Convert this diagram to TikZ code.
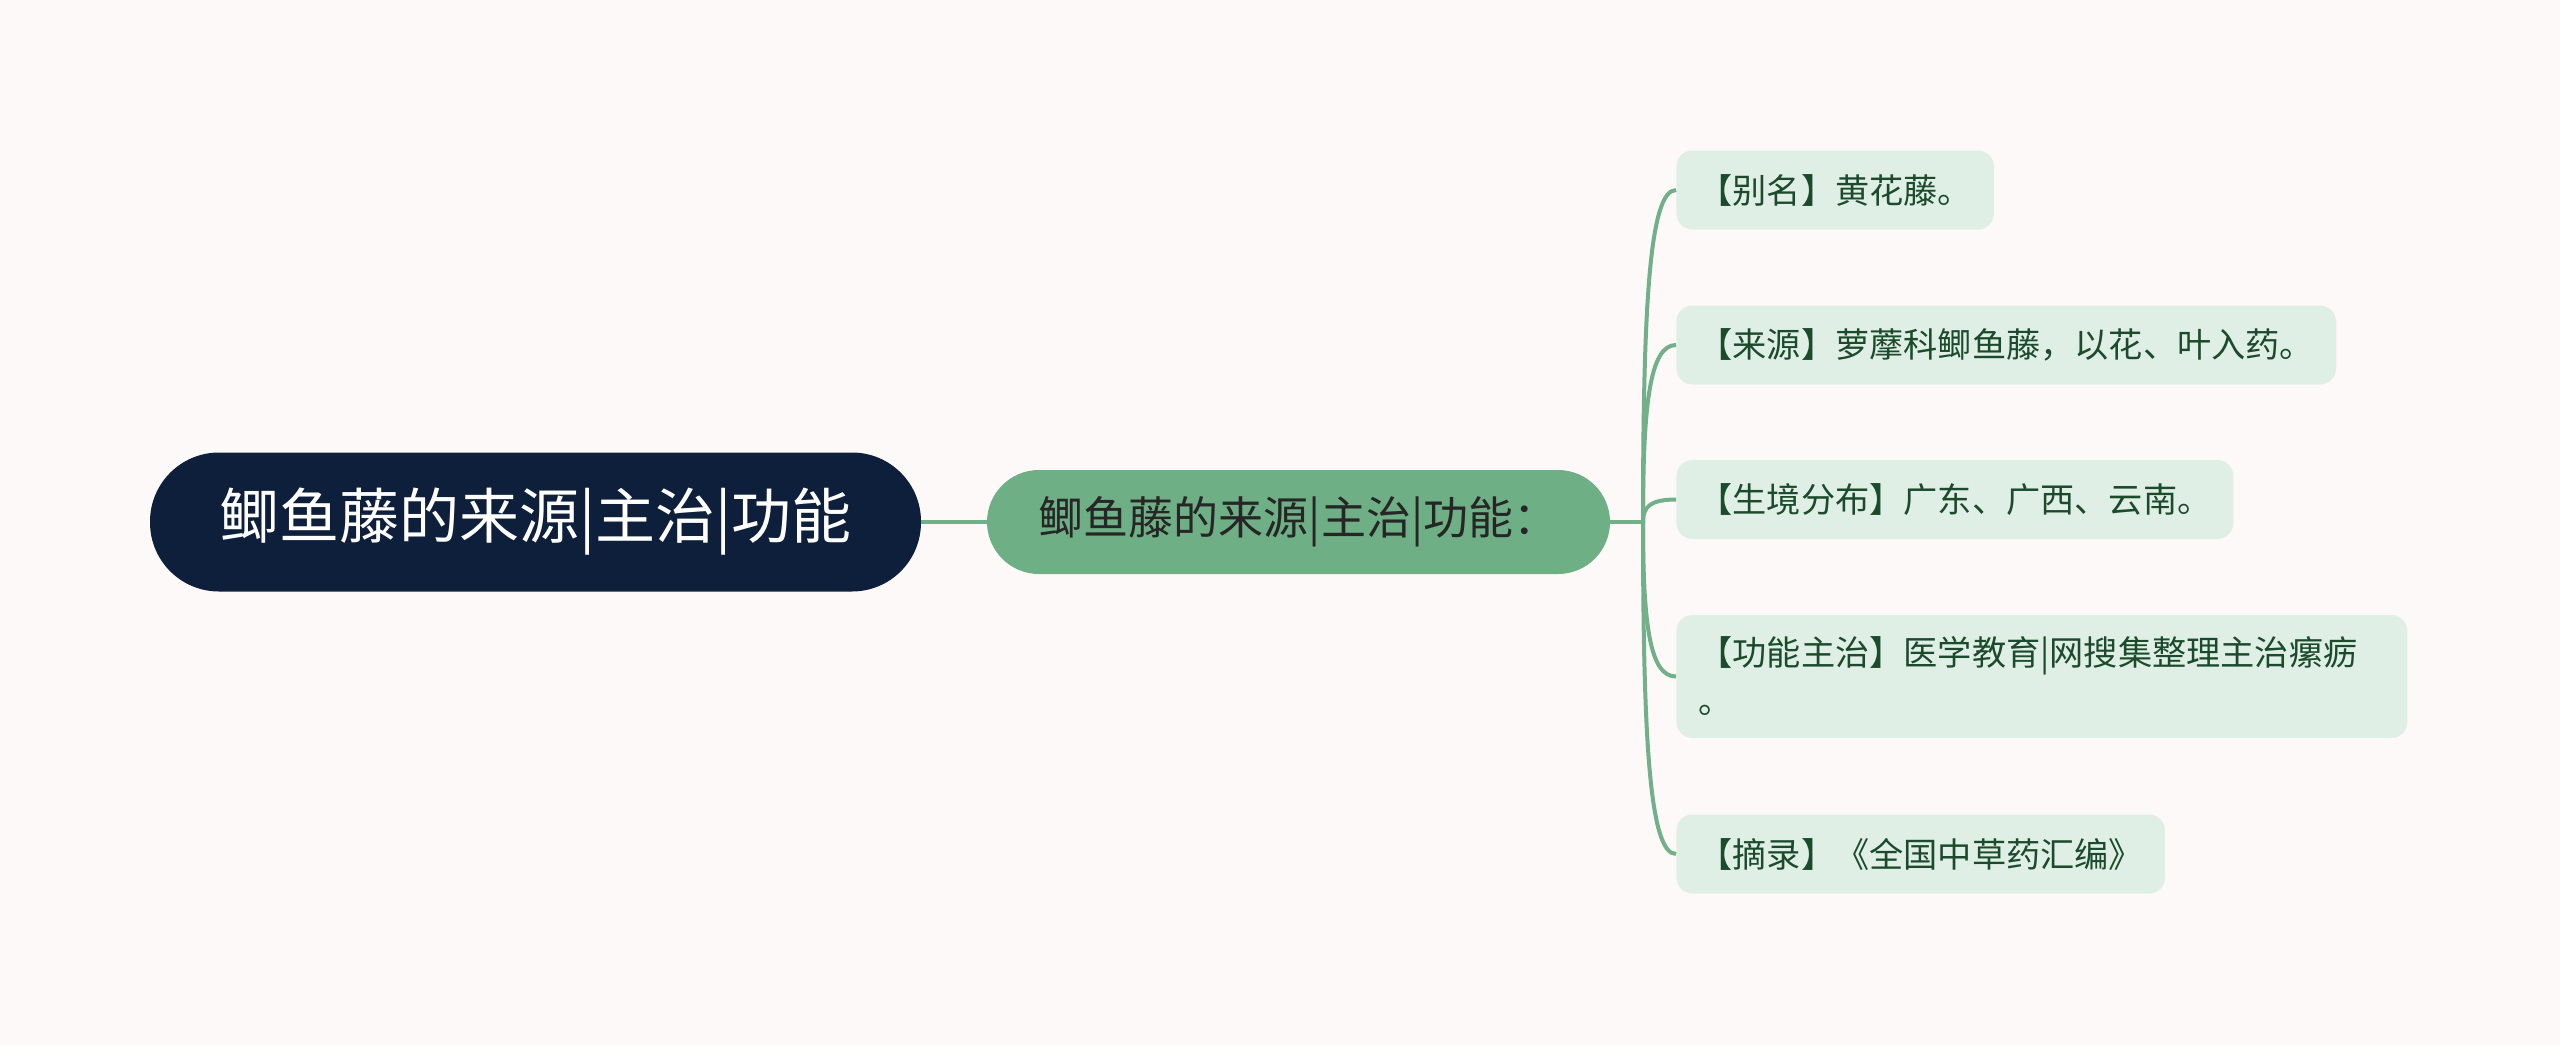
\documentclass[tikz,border=0pt]{standalone}
\usepackage{fontspec}
\newfontfamily\cjk{Noto Sans CJK SC}
\usetikzlibrary{positioning}

\definecolor{bgcol}{HTML}{FCF9F8}
\definecolor{rootcol}{HTML}{0E1F3B}
\definecolor{maincol}{HTML}{6FAF86}
\definecolor{leafcol}{HTML}{E0EFE5}
\definecolor{linkcol}{HTML}{72B08A}
\definecolor{leaftext}{HTML}{1B4A2C}

\tikzset{
  rootbox/.style={fill=rootcol, text=white, rounded corners=34.5pt,
    minimum width=385.5pt, minimum height=69.5pt, inner sep=0pt,
    font=\cjk\fontsize{30}{36}\selectfont},
  mainbox/.style={fill=maincol, text=black!85, rounded corners=26pt,
    minimum width=311.5pt, minimum height=52pt, inner sep=0pt,
    font=\cjk\fontsize{22.5}{27}\selectfont},
  leafbox/.style={fill=leafcol, text=leaftext, rounded corners=8pt,
    anchor=west, minimum height=39.5pt, inner xsep=11pt, inner ysep=0pt,
    font=\cjk\fontsize{17.1}{24}\selectfont},
  link/.style={draw=linkcol, line width=2pt}
}

\begin{document}
\begin{tikzpicture}[x=0.5pt,y=-0.5pt]
  \fill[bgcol] (0,0) rectangle (2560,1045);
  \useasboundingbox (0,0) rectangle (2560,1045);

  \node[rootbox] (root) at (535.5,522) {鲫鱼藤的来源|主治|功能};
  \node[mainbox] (main) at (1298.5,522) {鲫鱼藤的来源|主治|功能：};
  \coordinate (J) at (1643,522);

  \node[leafbox] (l1) at (1676,190) {【别名】黄花藤。};
  \node[leafbox] (l2) at (1676,345) {【来源】萝藦科鲫鱼藤，以花、叶入药。};
  \node[leafbox] (l3) at (1676,499.5) {【生境分布】广东、广西、云南。};
  \node[leafbox, minimum height=61.5pt, text width=343.5pt, align=left]
    (l4) at (1676,676.5) {【功能主治】医学教育|网搜集整理主治瘰疬\\。};
  \node[leafbox] (l5) at (1676,854) {【摘录】《全国中草药汇编》};

  \draw[link] (root) -- (main);
  \draw[link] (main.east) -- (J);
  \draw[link] (J) .. controls +(0,-222) and +(-26,0) .. (l1.west);
  \draw[link] (J) .. controls +(0,-119) and +(-26,0) .. (l2.west);
  \draw[link] (J) .. controls +(0,-15) and +(-26,0) .. (l3.west);
  \draw[link] (J) .. controls +(0,104) and +(-26,0) .. (l4.west);
  \draw[link] (J) .. controls +(0,222) and +(-26,0) .. (l5.west);
\end{tikzpicture}
\end{document}
